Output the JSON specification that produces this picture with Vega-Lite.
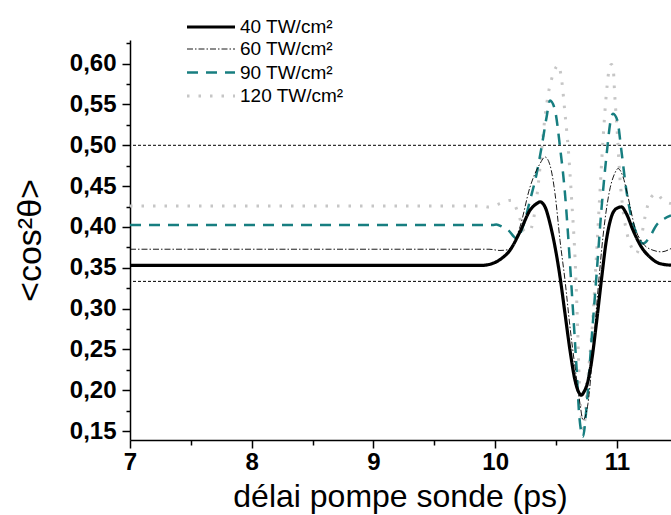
{
  "$schema": "https://vega.github.io/schema/vega-lite/v6.json",
  "width": 541,
  "height": 400,
  "autosize": {"type": "none"},
  "padding": {"left": 130, "top": 40, "right": 0, "bottom": 75},
  "background": "white",
  "config": {
    "view": {"stroke": null},
    "font": "Liberation Sans",
    "axis": {
      "grid": false,
      "domainColor": "#000",
      "domainWidth": 1.5,
      "tickColor": "#000",
      "tickWidth": 1.5,
      "labelColor": "#000",
      "labelFont": "Liberation Sans",
      "labelFontWeight": "bold",
      "labelFontSize": 24,
      "titleColor": "#000",
      "titleFont": "Liberation Sans",
      "titleFontWeight": "normal",
      "titleFontSize": 32
    }
  },
  "encoding": {
    "y": {
      "field": "y",
      "type": "quantitative",
      "scale": {"domain": [0.139, 0.629], "nice": false, "zero": false},
      "axis": {
        "title": "<cos²θ>",
        "values": [0.15, 0.175, 0.2, 0.225, 0.25, 0.275, 0.3, 0.325, 0.35, 0.375, 0.4, 0.425, 0.45, 0.475, 0.5, 0.525, 0.55, 0.575, 0.6, 0.625],
        "labelExpr": "abs(datum.value*20 - round(datum.value*20)) < 0.01 ? replace(format(datum.value, '.2f'), '.', ',') : ''",
        "tickSize": {"condition": {"test": "abs(datum.value*20 - round(datum.value*20)) > 0.01", "value": 4}, "value": 8},
        "labelPadding": 6,
        "labelOverlap": false,
        "titleFontSize": 34,
        "titleX": -100,
        "titleY": 200,
        "titleAlign": "center",
        "titleBaseline": "middle",
        "titleAngle": -90
      }
    }
  },
  "layer": [
    {
      "data": {"values": [{"y": 0.5}, {"y": 0.3333}]},
      "mark": {"type": "rule", "color": "#000", "strokeWidth": 1, "strokeDash": [3, 2]}
    },
    {
      "data": {"values": [
        {"series": "120 TW/cm²", "x": 7, "y": 0.4255},
        {"series": "120 TW/cm²", "x": 9.9, "y": 0.4255},
        {"series": "120 TW/cm²", "x": 9.944, "y": 0.4245},
        {"series": "120 TW/cm²", "x": 10.0, "y": 0.4265},
        {"series": "120 TW/cm²", "x": 10.04, "y": 0.4286},
        {"series": "120 TW/cm²", "x": 10.136, "y": 0.4327},
        {"series": "120 TW/cm²", "x": 10.19, "y": 0.4164},
        {"series": "120 TW/cm²", "x": 10.245, "y": 0.394},
        {"series": "120 TW/cm²", "x": 10.287, "y": 0.396},
        {"series": "120 TW/cm²", "x": 10.328, "y": 0.4205},
        {"series": "120 TW/cm²", "x": 10.355, "y": 0.453},
        {"series": "120 TW/cm²", "x": 10.382, "y": 0.4939},
        {"series": "120 TW/cm²", "x": 10.41, "y": 0.5347},
        {"series": "120 TW/cm²", "x": 10.437, "y": 0.5633},
        {"series": "120 TW/cm²", "x": 10.478, "y": 0.5877},
        {"series": "120 TW/cm²", "x": 10.519, "y": 0.598},
        {"series": "120 TW/cm²", "x": 10.547, "y": 0.5796},
        {"series": "120 TW/cm²", "x": 10.574, "y": 0.539},
        {"series": "120 TW/cm²", "x": 10.602, "y": 0.4939},
        {"series": "120 TW/cm²", "x": 10.629, "y": 0.4327},
        {"series": "120 TW/cm²", "x": 10.656, "y": 0.3634},
        {"series": "120 TW/cm²", "x": 10.675, "y": 0.29},
        {"series": "120 TW/cm²", "x": 10.692, "y": 0.2083},
        {"series": "120 TW/cm²", "x": 10.725, "y": 0.152},
        {"series": "120 TW/cm²", "x": 10.763, "y": 0.2165},
        {"series": "120 TW/cm²", "x": 10.804, "y": 0.29},
        {"series": "120 TW/cm²", "x": 10.832, "y": 0.3634},
        {"series": "120 TW/cm²", "x": 10.859, "y": 0.4368},
        {"series": "120 TW/cm²", "x": 10.886, "y": 0.5061},
        {"series": "120 TW/cm²", "x": 10.914, "y": 0.5633},
        {"series": "120 TW/cm²", "x": 10.941, "y": 0.5959},
        {"series": "120 TW/cm²", "x": 10.955, "y": 0.599},
        {"series": "120 TW/cm²", "x": 10.969, "y": 0.5959},
        {"series": "120 TW/cm²", "x": 10.982, "y": 0.5633},
        {"series": "120 TW/cm²", "x": 11.004, "y": 0.5143},
        {"series": "120 TW/cm²", "x": 11.023, "y": 0.4653},
        {"series": "120 TW/cm²", "x": 11.051, "y": 0.4205},
        {"series": "120 TW/cm²", "x": 11.078, "y": 0.396},
        {"series": "120 TW/cm²", "x": 11.119, "y": 0.3756},
        {"series": "120 TW/cm²", "x": 11.16, "y": 0.3674},
        {"series": "120 TW/cm²", "x": 11.201, "y": 0.3878},
        {"series": "120 TW/cm²", "x": 11.243, "y": 0.4205},
        {"series": "120 TW/cm²", "x": 11.284, "y": 0.4368},
        {"series": "120 TW/cm²", "x": 11.325, "y": 0.441},
        {"series": "120 TW/cm²", "x": 11.379, "y": 0.4327},
        {"series": "120 TW/cm²", "x": 11.445, "y": 0.4286},

        {"series": "90 TW/cm²", "x": 7, "y": 0.4025},
        {"series": "90 TW/cm²", "x": 9.98, "y": 0.4025},
        {"series": "90 TW/cm²", "x": 10.01, "y": 0.403},
        {"series": "90 TW/cm²", "x": 10.06, "y": 0.4},
        {"series": "90 TW/cm²", "x": 10.108, "y": 0.396},
        {"series": "90 TW/cm²", "x": 10.177, "y": 0.3858},
        {"series": "90 TW/cm²", "x": 10.232, "y": 0.4021},
        {"series": "90 TW/cm²", "x": 10.287, "y": 0.4327},
        {"series": "90 TW/cm²", "x": 10.341, "y": 0.4653},
        {"series": "90 TW/cm²", "x": 10.382, "y": 0.498},
        {"series": "90 TW/cm²", "x": 10.423, "y": 0.5347},
        {"series": "90 TW/cm²", "x": 10.451, "y": 0.555},
        {"series": "90 TW/cm²", "x": 10.492, "y": 0.5429},
        {"series": "90 TW/cm²", "x": 10.533, "y": 0.498},
        {"series": "90 TW/cm²", "x": 10.574, "y": 0.4409},
        {"series": "90 TW/cm²", "x": 10.615, "y": 0.3552},
        {"series": "90 TW/cm²", "x": 10.643, "y": 0.29},
        {"series": "90 TW/cm²", "x": 10.67, "y": 0.2246},
        {"series": "90 TW/cm²", "x": 10.692, "y": 0.1675},
        {"series": "90 TW/cm²", "x": 10.722, "y": 0.143},
        {"series": "90 TW/cm²", "x": 10.749, "y": 0.176},
        {"series": "90 TW/cm²", "x": 10.79, "y": 0.2573},
        {"series": "90 TW/cm²", "x": 10.832, "y": 0.3389},
        {"series": "90 TW/cm²", "x": 10.873, "y": 0.4205},
        {"series": "90 TW/cm²", "x": 10.914, "y": 0.4858},
        {"series": "90 TW/cm²", "x": 10.955, "y": 0.5347},
        {"series": "90 TW/cm²", "x": 10.969, "y": 0.5388},
        {"series": "90 TW/cm²", "x": 11.004, "y": 0.5306},
        {"series": "90 TW/cm²", "x": 11.037, "y": 0.494},
        {"series": "90 TW/cm²", "x": 11.078, "y": 0.445},
        {"series": "90 TW/cm²", "x": 11.119, "y": 0.4123},
        {"series": "90 TW/cm²", "x": 11.174, "y": 0.3878},
        {"series": "90 TW/cm²", "x": 11.215, "y": 0.3797},
        {"series": "90 TW/cm²", "x": 11.27, "y": 0.3878},
        {"series": "90 TW/cm²", "x": 11.325, "y": 0.4022},
        {"series": "90 TW/cm²", "x": 11.39, "y": 0.41},
        {"series": "90 TW/cm²", "x": 11.445, "y": 0.414},

        {"series": "60 TW/cm²", "x": 7, "y": 0.3727},
        {"series": "60 TW/cm²", "x": 9.95, "y": 0.3727},
        {"series": "60 TW/cm²", "x": 10.04, "y": 0.3712},
        {"series": "60 TW/cm²", "x": 10.1, "y": 0.372},
        {"series": "60 TW/cm²", "x": 10.15, "y": 0.38},
        {"series": "60 TW/cm²", "x": 10.204, "y": 0.4},
        {"series": "60 TW/cm²", "x": 10.287, "y": 0.449},
        {"series": "60 TW/cm²", "x": 10.369, "y": 0.4776},
        {"series": "60 TW/cm²", "x": 10.41, "y": 0.4857},
        {"series": "60 TW/cm²", "x": 10.451, "y": 0.4755},
        {"series": "60 TW/cm²", "x": 10.492, "y": 0.4409},
        {"series": "60 TW/cm²", "x": 10.533, "y": 0.3837},
        {"series": "60 TW/cm²", "x": 10.574, "y": 0.3348},
        {"series": "60 TW/cm²", "x": 10.615, "y": 0.2777},
        {"series": "60 TW/cm²", "x": 10.656, "y": 0.2287},
        {"series": "60 TW/cm²", "x": 10.697, "y": 0.1838},
        {"series": "60 TW/cm²", "x": 10.722, "y": 0.1634},
        {"series": "60 TW/cm²", "x": 10.763, "y": 0.1838},
        {"series": "60 TW/cm²", "x": 10.804, "y": 0.249},
        {"series": "60 TW/cm²", "x": 10.845, "y": 0.3225},
        {"series": "60 TW/cm²", "x": 10.886, "y": 0.3878},
        {"series": "60 TW/cm²", "x": 10.941, "y": 0.445},
        {"series": "60 TW/cm²", "x": 10.982, "y": 0.4653},
        {"series": "60 TW/cm²", "x": 11.01, "y": 0.4715},
        {"series": "60 TW/cm²", "x": 11.051, "y": 0.4613},
        {"series": "60 TW/cm²", "x": 11.092, "y": 0.4368},
        {"series": "60 TW/cm²", "x": 11.147, "y": 0.4001},
        {"series": "60 TW/cm²", "x": 11.215, "y": 0.3797},
        {"series": "60 TW/cm²", "x": 11.297, "y": 0.3715},
        {"series": "60 TW/cm²", "x": 11.366, "y": 0.3695},
        {"series": "60 TW/cm²", "x": 11.445, "y": 0.3735},

        {"series": "40 TW/cm²", "x": 7, "y": 0.353},
        {"series": "40 TW/cm²", "x": 9.9, "y": 0.353},
        {"series": "40 TW/cm²", "x": 9.958, "y": 0.3543},
        {"series": "40 TW/cm²", "x": 10.04, "y": 0.36},
        {"series": "40 TW/cm²", "x": 10.122, "y": 0.3715},
        {"series": "40 TW/cm²", "x": 10.204, "y": 0.394},
        {"series": "40 TW/cm²", "x": 10.287, "y": 0.4205},
        {"series": "40 TW/cm²", "x": 10.341, "y": 0.4286},
        {"series": "40 TW/cm²", "x": 10.369, "y": 0.4307},
        {"series": "40 TW/cm²", "x": 10.41, "y": 0.4245},
        {"series": "40 TW/cm²", "x": 10.451, "y": 0.4041},
        {"series": "40 TW/cm²", "x": 10.492, "y": 0.3756},
        {"series": "40 TW/cm²", "x": 10.533, "y": 0.3389},
        {"series": "40 TW/cm²", "x": 10.574, "y": 0.294},
        {"series": "40 TW/cm²", "x": 10.615, "y": 0.249},
        {"series": "40 TW/cm²", "x": 10.656, "y": 0.2124},
        {"series": "40 TW/cm²", "x": 10.685, "y": 0.198},
        {"series": "40 TW/cm²", "x": 10.708, "y": 0.194},
        {"series": "40 TW/cm²", "x": 10.73, "y": 0.198},
        {"series": "40 TW/cm²", "x": 10.749, "y": 0.2042},
        {"series": "40 TW/cm²", "x": 10.79, "y": 0.2328},
        {"series": "40 TW/cm²", "x": 10.832, "y": 0.2817},
        {"series": "40 TW/cm²", "x": 10.873, "y": 0.3348},
        {"series": "40 TW/cm²", "x": 10.914, "y": 0.3837},
        {"series": "40 TW/cm²", "x": 10.955, "y": 0.4123},
        {"series": "40 TW/cm²", "x": 10.996, "y": 0.4225},
        {"series": "40 TW/cm²", "x": 11.037, "y": 0.4245},
        {"series": "40 TW/cm²", "x": 11.078, "y": 0.4164},
        {"series": "40 TW/cm²", "x": 11.133, "y": 0.396},
        {"series": "40 TW/cm²", "x": 11.201, "y": 0.3756},
        {"series": "40 TW/cm²", "x": 11.27, "y": 0.3633},
        {"series": "40 TW/cm²", "x": 11.352, "y": 0.3552},
        {"series": "40 TW/cm²", "x": 11.445, "y": 0.3531}
      ]},
      "mark": {"type": "line", "interpolate": "monotone", "clip": true},
      "encoding": {
        "x": {
          "field": "x",
          "type": "quantitative",
          "scale": {"domain": [7, 11.445], "nice": false, "zero": false},
          "axis": {
            "title": "délai pompe sonde (ps)",
            "values": [7, 7.5, 8, 8.5, 9, 9.5, 10, 10.5, 11],
            "labelExpr": "datum.value % 1 === 0 ? format(datum.value, 'd') : ''",
            "tickSize": {"condition": {"test": "datum.value % 1 !== 0", "value": 5}, "value": 8},
            "labelPadding": 2,
            "labelOverlap": false,
            "labelFlush": false,
            "titleX": 270,
            "titleY": 66,
            "titleAlign": "center",
            "titleBaseline": "alphabetic"
          }
        },
        "color": {
          "field": "series",
          "type": "nominal",
          "scale": {"domain": ["40 TW/cm²", "60 TW/cm²", "90 TW/cm²", "120 TW/cm²"], "range": ["#000000", "#000000", "#177e80", "#c6c6c6"]},
          "legend": {
            "title": null,
            "orient": "none",
            "legendX": 69,
            "legendY": -25,
            "padding": 0,
            "symbolType": "M-2.4,0H2.4",
            "symbolSize": 400,
            "symbolFillColor": "transparent",
            "labelOffset": 17,
            "labelFont": "Liberation Sans",
            "labelFontSize": 19,
            "labelColor": "#000",
            "rowPadding": 1.5
          }
        },
        "strokeDash": {
          "field": "series",
          "type": "nominal",
          "scale": {"domain": ["40 TW/cm²", "60 TW/cm²", "90 TW/cm²", "120 TW/cm²"], "range": [[1, 0], [6, 2, 1.5, 2], [11, 8], [2.5, 9]]},
          "legend": null
        },
        "strokeWidth": {
          "field": "series",
          "type": "nominal",
          "scale": {"type": "ordinal", "domain": ["40 TW/cm²", "60 TW/cm²", "90 TW/cm²", "120 TW/cm²"], "range": [3.2, 0.9, 2.5, 3]},
          "legend": null
        }
      }
    }
  ]
}
